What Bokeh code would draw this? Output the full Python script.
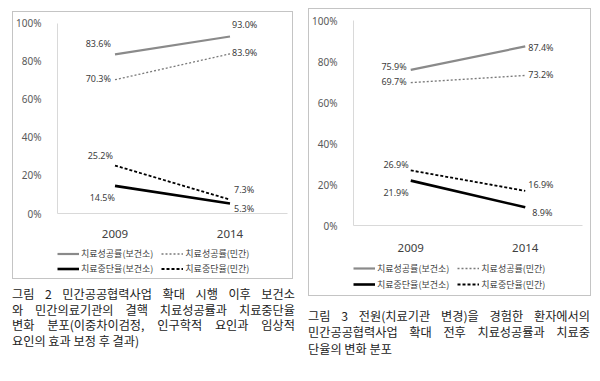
from bokeh.plotting import figure
from bokeh.models import (Range1d, FixedTicker, PrintfTickFormatter, Legend, LegendItem, Div)
from bokeh.layouts import row, column
from bokeh.core.properties import value
from bokeh.embed import file_html
from bokeh.resources import INLINE

# ---------------- data ----------------
years = ["2009", "2014"]
series_names = ["치료성공률(보건소)", "치료성공률(민간)", "치료중단율(보건소)", "치료중단율(민간)"]

# Figure 2 (left)
left_success_public = [83.6, 93.0]
left_success_private = [70.3, 83.9]
left_dropout_public = [14.5, 5.3]
left_dropout_private = [25.2, 7.3]

# Figure 3 (right)
right_success_public = [75.9, 87.4]
right_success_private = [69.7, 73.2]
right_dropout_public = [21.9, 8.9]
right_dropout_private = [26.9, 16.9]

y_ticks = [0, 20, 40, 60, 80, 100]

caption_left = ["그림 2 민간공공협력사업 확대 시행 이후 보건소",
                "와 민간의료기관의 결핵 치료성공률과 치료중단율",
                "변화 분포(이중차이검정, 인구학적 요인과 임상적",
                "요인의 효과 보정 후 결과)"]
caption_right = ["그림 3 전원(치료기관 변경)을 경험한 환자에서의",
                 "민간공공협력사업 확대 전후 치료성공률과 치료중",
                 "단율의 변화 분포"]

# ---------------- styles ----------------
line_styles = [
    dict(line_color="#8a8a8a", line_width=2.2, line_dash="solid"),
    dict(line_color="#7a7a7a", line_width=1.3, line_dash="2 2"),
    dict(line_color="#000000", line_width=2.6, line_dash="solid"),
    dict(line_color="#000000", line_width=1.8, line_dash="3 2"),
]
# label offsets (screen px) for [2009, 2014] per series
left_offsets = [[(-4, -11), (2, -12)], [(-4, -1), (2, -1)],
                [(0, 12), (4, 5)], [(-2, -10), (4, -10)]]
right_offsets = [[(-4, -3), (3, 1)], [(-4, -1), (3, -1)],
                 [(-2, 12), (7, 5)], [(-2, -6), (3, -6)]]

SANS = "Noto Sans"
KR = "Noto Sans CJK KR"
BOX = {"border": "1px solid #c4c4c4"}
NAN = float("nan")


def make_chart(series, offsets, w, h, bl, br, bt, bb, y_end, x_standoff):
    p = figure(x_range=years, y_range=Range1d(0, y_end), width=w, height=h,
               output_backend="svg", toolbar_location=None,
               min_border_left=bl, min_border_right=br, min_border_top=bt,
               min_border_bottom=bb)
    p.outline_line_color = None
    p.xgrid.visible = False
    p.ygrid.visible = False

    p.yaxis.ticker = FixedTicker(ticks=y_ticks)
    p.yaxis.bounds = (0, 100)
    p.yaxis.formatter = PrintfTickFormatter(format="%d%%")
    p.yaxis.major_tick_line_color = None
    p.yaxis.minor_tick_line_color = None
    p.yaxis.axis_line_color = "#d9d9d9"
    p.yaxis.major_label_standoff = 10
    p.yaxis.major_label_text_font = SANS
    p.yaxis.major_label_text_font_size = "10px"
    p.yaxis.major_label_text_color = "#595959"

    p.xaxis.major_tick_line_color = None
    p.xaxis.minor_tick_line_color = None
    p.xaxis.axis_line_color = "#d9d9d9"
    p.xaxis.major_label_standoff = x_standoff
    p.xaxis.major_label_text_font = SANS
    p.xaxis.major_label_text_font_size = "11.5px"
    p.xaxis.major_label_text_color = "#404040"

    for vals, st, offs in zip(series, line_styles, offsets):
        p.line(years, vals, **st)
        for i, (yr, v) in enumerate(zip(years, vals)):
            dx, dy = offs[i]
            p.text([yr], [v], text=[f"{v:.1f}%"], x_offset=dx, y_offset=dy,
                   text_align="right" if i == 0 else "left", text_baseline="middle",
                   text_font=value(SANS), text_font_size="9px", text_color="#404040")
    return p


def make_legend(w, h, bl, bt, bb, row_h):
    q = figure(width=w, height=h, x_range=Range1d(0, 1), y_range=Range1d(0, 1),
               x_axis_location=None, y_axis_location=None,
               min_border_left=bl, min_border_right=0, min_border_top=bt, min_border_bottom=bb,
               output_backend="svg", toolbar_location=None)
    q.outline_line_color = None
    q.xgrid.visible = False
    q.ygrid.visible = False
    items = []
    for name, st in zip(series_names, line_styles):
        r = q.line(x=[NAN], y=[NAN], **st)  # legend swatch only, draws nothing itself
        items.append(LegendItem(label=name, renderers=[r]))
    for k, loc in enumerate(["top_left", "bottom_left"]):
        lg = Legend(items=items[2 * k:2 * k + 2], orientation="horizontal",
                    glyph_width=22, glyph_height=row_h, label_height=row_h, label_standoff=2,
                    spacing=8, padding=0, margin=0, location=loc,
                    label_text_font=KR, label_text_font_size="9px",
                    label_text_color="#404040", border_line_color=None,
                    background_fill_alpha=0)
        q.add_layout(lg, "center")
    return q


def make_caption(lines, w, h, lh):
    parts = []
    for k, ln in enumerate(lines):
        last = k == len(lines) - 1
        parts.append(f'<div style="display:block;width:{w}px;text-align:justify;'
                     f'text-align-last:{"left" if last else "justify"};'
                     f'line-height:{lh}px;word-break:keep-all">{ln}</div>')
    return Div(text="".join(parts), width=w, height=h,
               styles={"font-family": KR, "font-size": "12.2px", "color": "#222222"})


p1 = make_chart([left_success_public, left_success_private, left_dropout_public, left_dropout_private],
                left_offsets, 279, 228, 40, 5, 1, 27, 105.1, 10)
l1 = make_legend(279, 38, 42, 6, 2, 15)
p2 = make_chart([right_success_public, right_success_private, right_dropout_public, right_dropout_private],
                right_offsets, 281, 245, 41, 8, 1, 29, 104.9, 12)
l2 = make_legend(281, 41, 43, 6, 3, 16)

box1 = column(p1, l1, styles=BOX)
box2 = column(p2, l2, styles=BOX)
box1.margin = (11, 15, 0, 12)
box2.margin = (8, 0, 0, 0)

d1 = make_caption(caption_left, 283, 66, 15.5)
d1.margin = (8, 13, 0, 12)
d2 = make_caption(caption_right, 282, 52, 16.3)
d2.margin = (12, 0, 0, 0)

layout = row(column(box1, d1), column(box2, d2))
open("out.html", "w").write(file_html(layout, INLINE))
